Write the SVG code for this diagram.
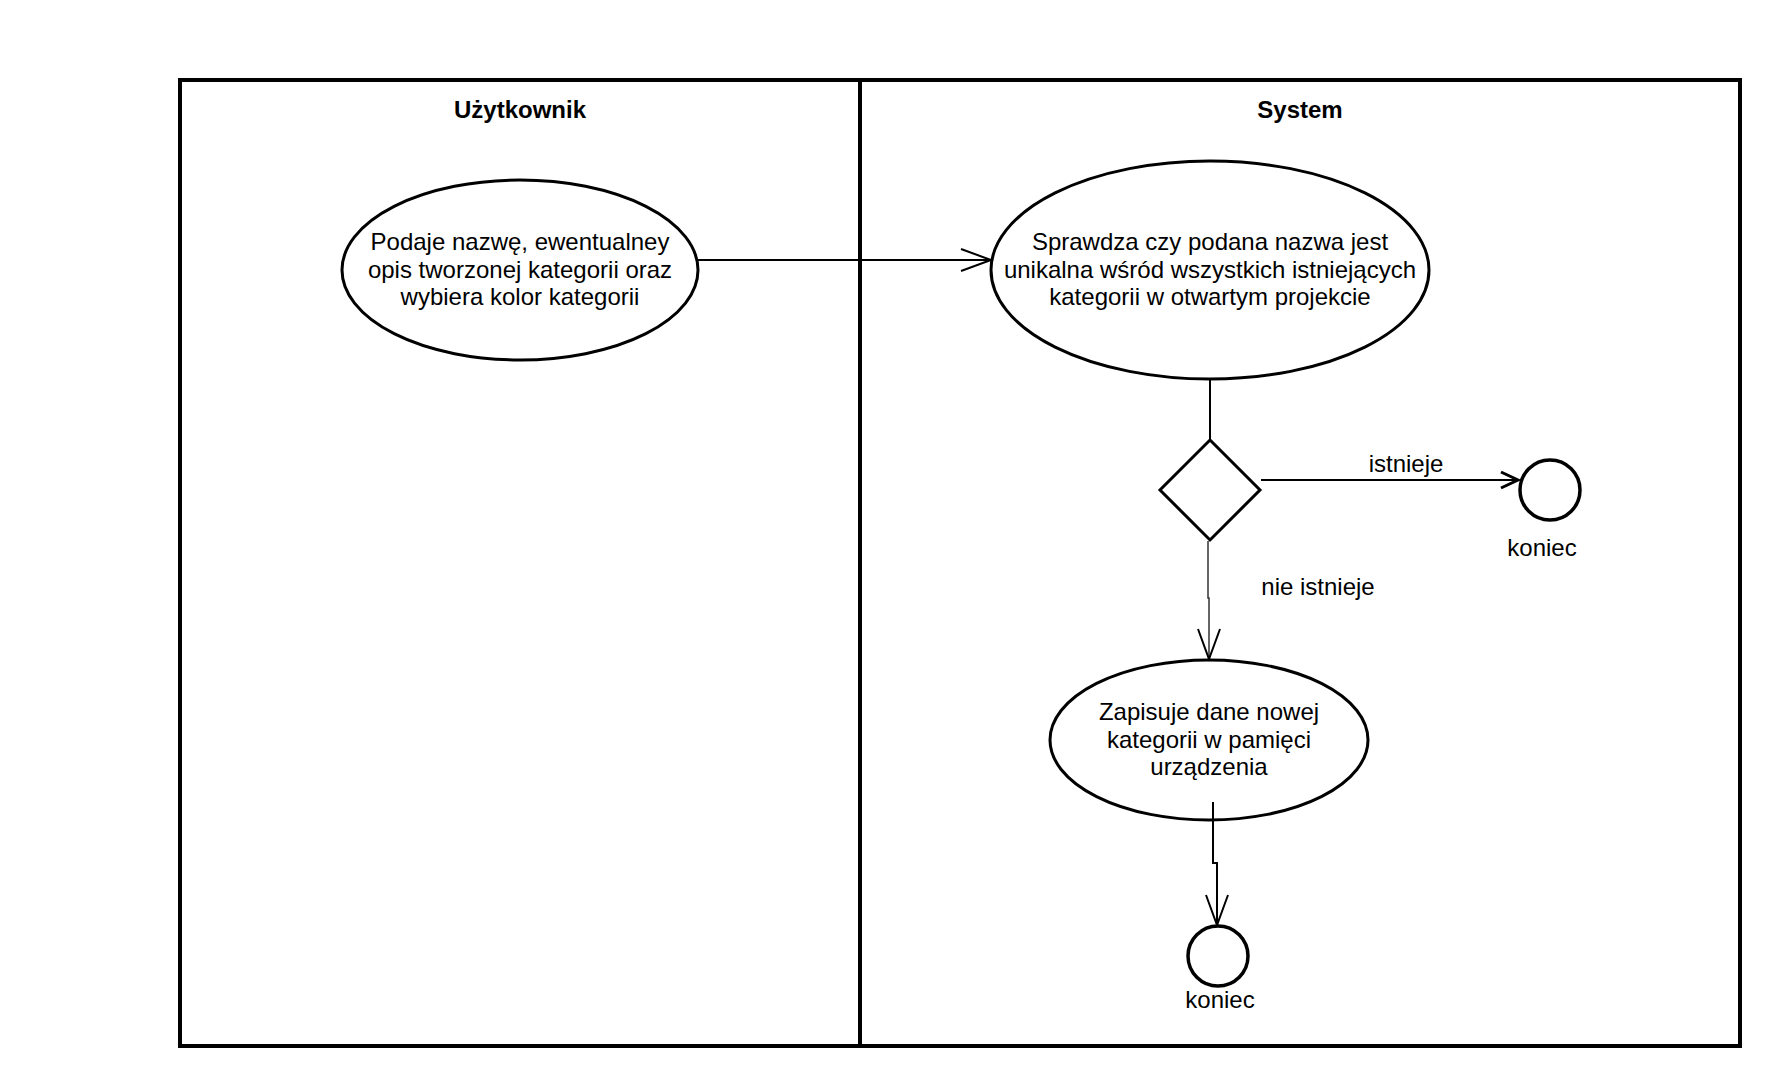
<svg xmlns="http://www.w3.org/2000/svg" width="1780" height="1086" viewBox="0 0 1780 1086">
  <style>
    text { font-family: "Liberation Sans", Arial, sans-serif; font-size: 24px; fill: #000; text-anchor: middle; }
    .hdr { font-weight: bold; }
    .lane { fill: none; stroke: #000; stroke-width: 4; }
    .act { fill: #fff; stroke: #000; stroke-width: 3; }
    .end { fill: #fff; stroke: #000; stroke-width: 3.5; }
    .flow { fill: none; stroke: #000; stroke-width: 2; }
    .thin { fill: none; stroke: #333; stroke-width: 1.5; }
  </style>
  <defs>
    <marker id="open" markerUnits="userSpaceOnUse" markerWidth="40" markerHeight="30" refX="31" refY="12" orient="auto">
      <path d="M1,1 L31,12 L1,23" fill="none" stroke="#000" stroke-width="2"/>
    </marker>
    <marker id="openBold" markerUnits="userSpaceOnUse" markerWidth="30" markerHeight="24" refX="19" refY="10" orient="auto">
      <path d="M2,2 L19,10 L2,18" fill="none" stroke="#000" stroke-width="3"/>
    </marker>
  </defs>
  <rect width="1780" height="1086" fill="#fff"/>

  <!-- swimlanes -->
  <g id="lanes">
    <rect class="lane" x="180" y="80" width="1560" height="966"/>
    <line class="lane" x1="860" y1="80" x2="860" y2="1046"/>
    <text class="hdr" x="520" y="118">Użytkownik</text>
    <text class="hdr" x="1300" y="118">System</text>
  </g>

  <g id="podaje">
    <ellipse class="act" cx="520" cy="270" rx="178" ry="90"/>
    <text x="520" y="250">Podaje nazwę, ewentualney</text>
    <text x="520" y="278">opis tworzonej kategorii oraz</text>
    <text x="520" y="305">wybiera kolor kategorii</text>
  </g>

  <g id="sprawdza">
    <ellipse class="act" cx="1210" cy="270" rx="219" ry="109"/>
    <text x="1210" y="250">Sprawdza czy podana nazwa jest</text>
    <text x="1210" y="278">unikalna wśród wszystkich istniejących</text>
    <text x="1210" y="305">kategorii w otwartym projekcie</text>
  </g>

  <g id="decyzja">
    <polygon class="act" points="1210,440 1260,490 1210,540 1160,490"/>
  </g>

  <g id="koniec1">
    <circle class="end" cx="1550" cy="490" r="30"/>
    <text x="1542" y="556">koniec</text>
  </g>

  <g id="zapisuje">
    <ellipse class="act" cx="1209" cy="740" rx="159" ry="80"/>
    <text x="1209" y="720">Zapisuje dane nowej</text>
    <text x="1209" y="748">kategorii w pamięci</text>
    <text x="1209" y="775">urządzenia</text>
  </g>

  <g id="koniec2">
    <circle class="end" cx="1218" cy="956" r="30"/>
    <text x="1220" y="1008">koniec</text>
  </g>

  <!-- connectors, drawn over the nodes -->
  <g id="connectors">
    <line class="flow" x1="697" y1="260" x2="991" y2="260" marker-end="url(#open)"/>
    <line class="flow" x1="1210" y1="379" x2="1210" y2="440"/>
    <line class="flow" x1="1261" y1="480" x2="1518" y2="480" marker-end="url(#openBold)"/>
    <text x="1406" y="472">istnieje</text>
    <polyline class="thin" points="1208,541 1208,598 1209,598 1209,659" marker-end="url(#open)"/>
    <text x="1318" y="595">nie istnieje</text>
    <polyline class="flow" points="1213,802 1213,863 1217,863 1217,925" marker-end="url(#open)"/>
  </g>
</svg>
